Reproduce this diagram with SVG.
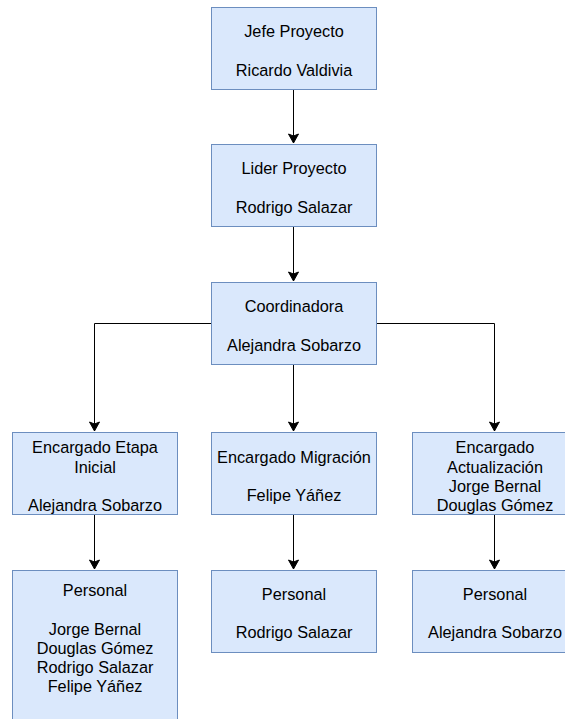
<svg xmlns="http://www.w3.org/2000/svg" width="565" height="719" viewBox="0 0 565 719">
  <style>
    .box { fill: #dae8fc; stroke: #6c8ebf; stroke-width: 1; }
    .t { font-family: "Liberation Sans", Arial, Helvetica, sans-serif; font-size: 16.3px; fill: #000; text-anchor: middle; }
    .edge { fill: none; stroke: #000; stroke-width: 1; marker-end: url(#arrow); }
  </style>
  <defs>
    <marker id="arrow" markerUnits="userSpaceOnUse" markerWidth="14" markerHeight="14" viewBox="-11 -7 14 14" refX="0" refY="0" orient="auto">
      <path d="M0,0 L-9,-5 L-7,0 L-9,5 Z" fill="#000" stroke="#000" stroke-width="1"/>
    </marker>
  </defs>

  <g id="connectors">
    <path class="edge" d="M293.5,89.5 L293.5,143"/>
    <path class="edge" d="M293.5,226.5 L293.5,281"/>
    <path class="edge" d="M293.5,364.5 L293.5,431"/>
    <path class="edge" d="M211.5,323.5 L94.5,323.5 L94.5,431"/>
    <path class="edge" d="M376.5,323.5 L494.5,323.5 L494.5,431"/>
    <path class="edge" d="M94.5,514.5 L94.5,569"/>
    <path class="edge" d="M293.5,514.5 L293.5,569"/>
    <path class="edge" d="M494.5,514.5 L494.5,569"/>
  </g>

  <g id="jefe">
    <rect class="box" x="211.5" y="7.5" width="165" height="82"/>
    <text class="t" x="294" y="37">Jefe Proyecto</text>
    <text class="t" x="294" y="75.5">Ricardo Valdivia</text>
  </g>

  <g id="lider">
    <rect class="box" x="211.5" y="144.5" width="165" height="82"/>
    <text class="t" x="294" y="174">Lider Proyecto</text>
    <text class="t" x="294" y="212.5">Rodrigo Salazar</text>
  </g>

  <g id="coordinadora">
    <rect class="box" x="211.5" y="282.5" width="165" height="82"/>
    <text class="t" x="294" y="312">Coordinadora</text>
    <text class="t" x="294" y="350.5">Alejandra Sobarzo</text>
  </g>

  <g id="etapa-inicial">
    <rect class="box" x="12.5" y="432.5" width="165" height="82"/>
    <text class="t" x="95" y="453.3">Encargado Etapa</text>
    <text class="t" x="95" y="472.5">Inicial</text>
    <text class="t" x="95" y="510.9">Alejandra Sobarzo</text>
  </g>

  <g id="migracion">
    <rect class="box" x="211.5" y="432.5" width="165" height="82"/>
    <text class="t" x="294" y="462.7">Encargado Migración</text>
    <text class="t" x="294" y="501">Felipe Yáñez</text>
  </g>

  <g id="actualizacion">
    <rect class="box" x="412.5" y="432.5" width="165" height="82"/>
    <text class="t" x="495" y="453.3">Encargado</text>
    <text class="t" x="495" y="472.5">Actualización</text>
    <text class="t" x="495" y="491.7">Jorge Bernal</text>
    <text class="t" x="495" y="510.9">Douglas Gómez</text>
  </g>

  <g id="personal-inicial">
    <rect class="box" x="12.5" y="570.5" width="165" height="170"/>
    <text class="t" x="95" y="596">Personal</text>
    <text class="t" x="95" y="634.5">Jorge Bernal</text>
    <text class="t" x="95" y="653.7">Douglas Gómez</text>
    <text class="t" x="95" y="672.9">Rodrigo Salazar</text>
    <text class="t" x="95" y="692.1">Felipe Yáñez</text>
  </g>

  <g id="personal-migracion">
    <rect class="box" x="211.5" y="570.5" width="165" height="82"/>
    <text class="t" x="294" y="600">Personal</text>
    <text class="t" x="294" y="638.3">Rodrigo Salazar</text>
  </g>

  <g id="personal-actualizacion">
    <rect class="box" x="412.5" y="570.5" width="165" height="82"/>
    <text class="t" x="495" y="600">Personal</text>
    <text class="t" x="495" y="638.3">Alejandra Sobarzo</text>
  </g>
</svg>
